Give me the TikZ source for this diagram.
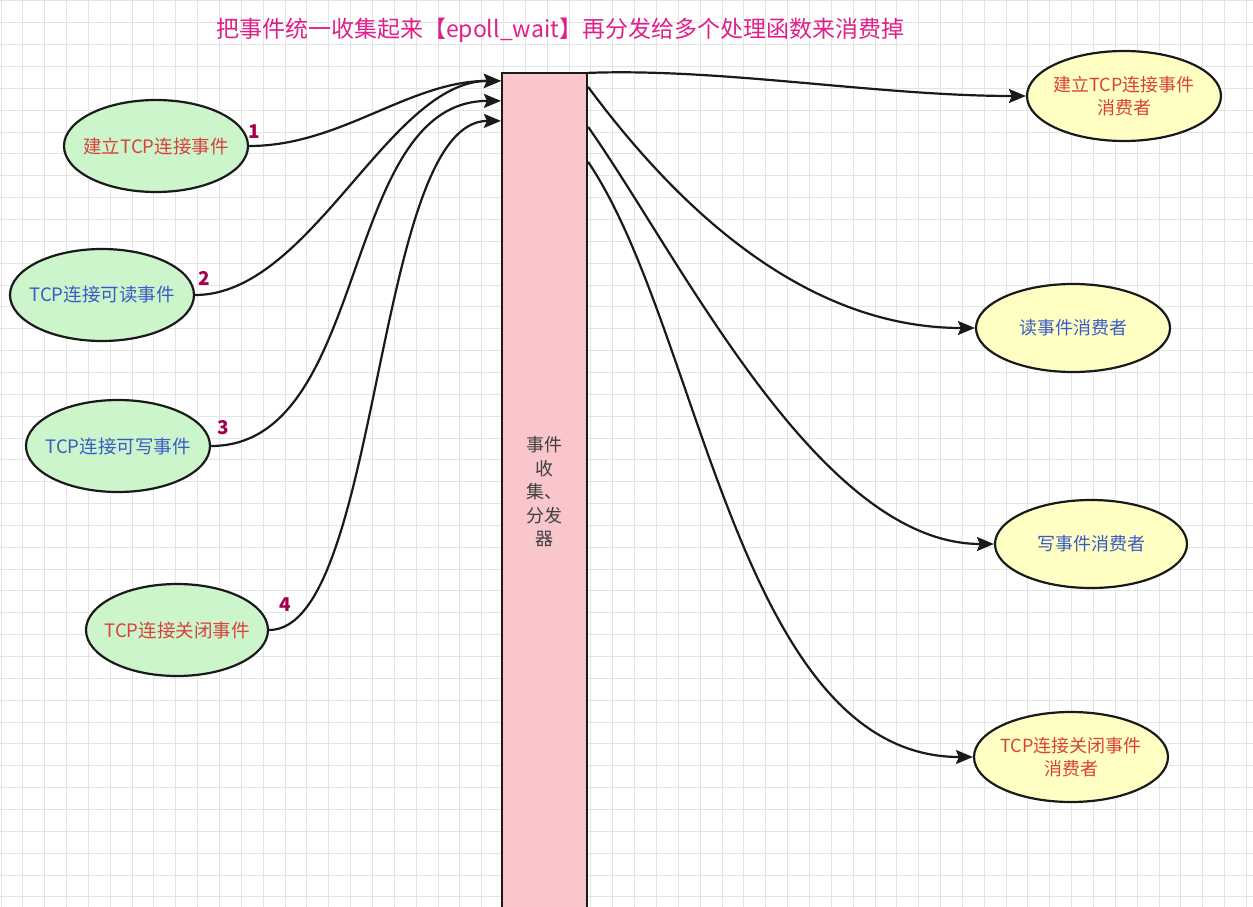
\documentclass[tikz,border=0pt]{standalone}
\usepackage{fontspec}
\setmainfont{Noto Sans CJK SC}
\usetikzlibrary{shapes.geometric,arrows.meta,calc}
\definecolor{gridc}{HTML}{E4E4E4}
\definecolor{greenf}{HTML}{CCF5CC}
\definecolor{yellowf}{HTML}{FFFFC4}
\definecolor{redt}{HTML}{D9413A}
\definecolor{bluet}{HTML}{3A5BC7}
\definecolor{numc}{HTML}{A3004F}
\definecolor{titlec}{HTML}{E0208A}
\definecolor{hubf}{HTML}{F8C6CB}
\definecolor{edgec}{HTML}{1A1A1A}
\tikzset{
  evt/.style={ellipse, draw=edgec, line width=2.2pt, fill=greenf, inner xsep=-20pt, inner ysep=-10pt,
    minimum width=184pt, minimum height=92pt, font=\fontsize{18.5}{22}\selectfont, align=center},
  cons/.style={ellipse, draw=edgec, line width=2.2pt, fill=yellowf, inner xsep=-20pt, inner ysep=-10pt,
    minimum width=194pt, minimum height=90pt, font=\fontsize{18}{22.5}\selectfont, align=center},
  hubbox/.style={rectangle, draw=edgec, line width=2.2pt, fill=hubf, inner sep=0pt,
    minimum width=85pt, minimum height=838pt},
  hubtext/.style={font=\fontsize{18}{23.5}\selectfont, text=black!75, align=center},
  num/.style={font=\fontsize{19}{22}\selectfont\bfseries, text=numc},
  conn/.style={draw=edgec, line width=2.2pt, -{Stealth[length=17pt,width=14pt,inset=3pt]}},
  ttl/.style={font=\fontsize{23}{27}\selectfont, text=titlec}
}
\begin{document}
\begin{tikzpicture}[x=1pt,y=-1pt]
\useasboundingbox (0,0) rectangle (1253,907);
\clip (0,0) rectangle (1253,907);
\fill[white] (0,0) rectangle (1253,907);
\foreach \i in {0,...,57} {
  \draw[gridc, line width=1pt] ({1+\i*21.85},0) -- ({1+\i*21.85},907);
}
\foreach \j in {0,...,41} {
  \draw[gridc, line width=1pt] (0,{1+\j*21.85}) -- (1253,{1+\j*21.85});
}

\node[ttl] (title) at (560,30) {把事件统一收集起来【epoll\_wait】再分发给多个处理函数来消费掉};

\node[hubbox] (hub) at (544.5,492) {};
\node[hubtext] (hubt) at (544.5,492) {事件\\收\\集、\\分发\\器};

\node[evt, text=redt] (s1) at (156,146) {建立TCP连接事件};
\node[evt, text=bluet] (s2) at (102,295) {TCP连接可读事件};
\node[evt, text=bluet] (s3) at (118,446) {TCP连接可写事件};
\node[evt, text=redt, minimum width=182pt] (s4) at (177,630) {TCP连接关闭事件};

\node[cons, text=redt] (t1) at (1124,96) {建立TCP连接事件\\消费者};
\node[cons, text=bluet, minimum height=88pt] (t2) at (1073,328) {读事件消费者};
\node[cons, text=bluet, minimum width=192pt, minimum height=88pt] (t3) at (1091,544) {写事件消费者};
\node[cons, text=redt] (t4) at (1071,757) {TCP连接关闭事件\\消费者};

\node[num] (n1) at (254,132) {1};
\node[num] (n2) at (204,278) {2};
\node[num] (n3) at (223,428) {3};
\node[num] (n4) at (285,605) {4};

\coordinate (h1) at ($(hub.north west)+(0,9)$);
\coordinate (h2) at ($(hub.north west)+(0,29)$);
\coordinate (h3) at ($(hub.north west)+(0,49)$);
\coordinate (o1) at ($(hub.north east)+(0,1)$);
\coordinate (o2) at ($(hub.north east)+(0,15)$);
\coordinate (o3) at ($(hub.north east)+(0,55)$);
\coordinate (o4) at ($(hub.north east)+(0,90)$);

\draw[conn] (s1.east) .. controls ($(s1.east)+(92,0)$) and ($(h1)+(-92,0)$) .. (h1);
\draw[conn] (s2.east) .. controls ($(s2.east)+(116,0)$) and ($(h1)+(-112,0)$) .. (h1);
\draw[conn] (s3.east) .. controls ($(s3.east)+(160,0)$) and ($(h2)+(-162,0)$) .. (h2);
\draw[conn] (s4.east) .. controls ($(s4.east)+(112,0)$) and ($(h3)+(-127,0)$) .. (h3);

\draw[conn] (o1) .. controls ($(o1)+(133,-5)$) and ($(t1.west)+(-147,0)$) .. (t1.west);
\draw[conn] (o2) .. controls ($(o2)+(83,112)$) and ($(t2.west)+(-176,0)$) .. (t2.west);
\draw[conn] (o3) .. controls ($(o3)+(93,132)$) and ($(t3.west)+(-175,0)$) .. (t3.west);
\draw[conn] (o4) .. controls ($(o4)+(113,167)$) and ($(t4.west)+(-234,0)$) .. (t4.west);
\end{tikzpicture}
\end{document}
